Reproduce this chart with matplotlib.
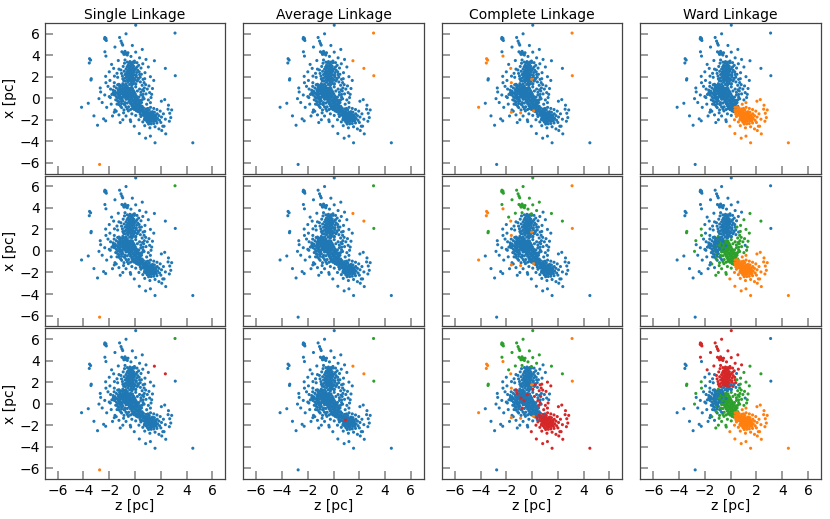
import numpy as np
import matplotlib
matplotlib.use('Agg')
import matplotlib.pyplot as plt

# cluster colours (label 0..3)
palette = np.array(['#1f77b4', '#ff7f0e', '#2ca02c', '#d62728'])

methods = ['Single Linkage', 'Average Linkage', 'Complete Linkage', 'Ward Linkage']
n_clusters = [2, 3, 4]

# star positions as (z, x) in pc, grouped by how they get labelled
top = [(0.05, 6.78), (-0.70, 5.98), (-2.34, 5.64), (-2.26, 5.55), (-2.31, 5.46),
       (-2.23, 5.36), (-2.36, 5.52), (-1.20, 5.64), (-1.09, 5.30), (-1.02, 5.09),
       (-0.96, 4.93), (-1.56, 4.75), (-0.21, 4.90), (0.56, 4.53), (-2.34, 4.31),
       (-1.02, 4.31), (-0.91, 4.22), (-0.78, 4.35), (-0.68, 4.19), (-0.86, 4.07),
       (-0.60, 4.01), (-0.55, 4.22), (-0.73, 4.10), (-0.32, 3.88), (0.05, 4.28),
       (-1.82, 3.14), (-0.78, 3.55), (-0.05, 3.45), (0.35, 3.75), (-1.30, 3.50)]
core_top = [(-0.45, 3.25), (-0.30, 3.20), (-0.20, 3.10), (-0.55, 3.05), (-0.38, 3.00),
            (-0.10, 2.95), (-0.62, 2.90), (-0.28, 2.88), (-0.48, 2.80), (-0.15, 2.78),
            (0.05, 2.75), (-0.70, 2.70), (-0.35, 2.68), (-0.22, 2.62), (-0.55, 2.58),
            (-0.05, 2.55), (-0.42, 2.50), (-0.30, 2.45), (-0.65, 2.42), (-0.12, 2.40),
            (0.12, 2.38), (-0.50, 2.32), (-0.25, 2.30), (-0.38, 2.22), (-0.78, 2.20),
            (-0.05, 2.18), (-0.58, 2.12), (-0.18, 2.10), (-0.42, 2.05), (-0.30, 1.98),
            (0.08, 1.98), (-0.68, 1.95), (-0.50, 1.90), (-0.12, 1.88), (-0.35, 1.82),
            (-0.22, 1.75), (-0.60, 1.72), (0.02, 1.70), (-0.45, 1.65), (-0.28, 1.60),
            (-0.75, 1.58), (-0.10, 1.55), (0.20, 2.60), (-0.85, 2.50), (0.25, 1.85),
            (-0.95, 1.80), (-0.92, 2.95), (0.28, 3.05), (-0.82, 3.25), (0.15, 3.30),
            (-1.05, 2.30), (0.35, 2.20), (-0.98, 2.05), (0.32, 2.45), (-0.88, 1.62),
            (0.18, 1.60), (0.40, 1.95), (-1.10, 2.62), (-0.60, 3.35), (-0.05, 3.30),
            (-0.40, 3.40), (-0.66, 2.27), (-0.09, 2.67), (-0.51, 2.96), (-0.24, 2.02),
            (-0.40, 1.73), (0.10, 2.12), (-0.80, 1.85), (0.15, 2.90), (-0.20, 3.35),
            (0.60, 3.20), (0.85, 3.60)]
core_blue = [(-0.55, 1.48), (-0.30, 1.42), (-0.15, 1.35), (-0.70, 1.30), (-0.42, 1.28),
             (0.05, 1.30), (-0.85, 1.22), (-0.25, 1.18), (-0.60, 1.12), (-1.00, 1.15),
             (-1.45, 0.95), (-1.30, 0.80), (-1.55, 0.65), (-1.20, 0.55), (-1.40, 0.45),
             (-1.10, 0.40), (-1.60, 0.30), (-1.25, 0.25), (-1.45, 0.15), (-1.05, 0.10),
             (-1.35, 0.00), (-1.15, -0.10), (-1.50, -0.15), (-0.95, -0.25), (-1.25, -0.35),
             (-1.05, -0.50), (-0.80, -0.60), (-1.40, -0.55), (-0.70, -0.80), (-1.70, 0.75),
             (-1.80, 0.35), (-1.20, 1.05), (-0.95, 0.85), (-1.05, 0.70), (-1.62, 1.10),
             (-1.35, 1.25), (-1.50, 0.50), (-1.28, 0.65), (-1.18, 0.20), (-1.00, -0.05),
             (-0.90, 0.30), (-0.95, 0.62), (-1.12, 0.85), (-0.78, 1.05), (-0.62, 0.88),
             (-0.72, 0.52), (-0.48, 0.82), (-0.88, 0.15), (-0.58, 0.18), (-0.35, 0.48)]
halo_blue = [(-3.63, -0.47), (-3.19, -1.64), (-2.91, -2.51), (-2.44, -1.92), (-2.28, -2.10),
             (-1.56, -1.09), (-1.40, 2.31), (-1.35, 1.94), (-2.67, 0.58), (-1.92, 0.06),
             (-2.00, 0.15), (-1.69, 0.52), (-1.61, 0.36), (-1.35, -0.25), (-1.25, -0.59),
             (-1.04, -0.87), (0.46, 2.80), (0.41, 1.51), (1.13, 0.52), (-2.10, 1.10),
             (-1.95, 1.65), (-1.85, -0.55), (-2.20, -0.85), (-1.75, -1.65), (-2.00, 2.45),
             (-1.60, 2.05), (-1.25, 2.70), (-1.90, 0.85), (-2.35, 0.30), (-1.25, -1.55),
             (-2.55, -0.40)]
c_orange_blue = [(-3.53, 3.67), (-3.45, 3.54), (-3.55, 3.27), (-2.26, 3.91), (-1.66, 2.77),
                 (-1.61, 1.44), (-4.15, -0.84), (-1.61, -1.30), (-0.03, 1.75)]
c_orange_green = [(-0.89, -1.36), (0.12, -1.18)]
left_green = [(-3.40, 1.81), (-3.42, 1.69)]
halo_green = [(-2.80, -0.04), (-2.70, 0.95), (-2.26, 1.44), (-2.28, 2.03), (-1.46, -1.21),
              (-1.15, -2.26), (-0.37, -2.01), (-0.34, -2.17), (1.03, 2.90), (0.77, 2.37),
              (0.49, 2.22), (1.29, 0.36), (-0.86, -1.09), (-0.52, -1.18), (-0.21, -0.96),
              (-0.70, -1.65), (-0.95, -2.00), (0.05, -1.60), (-0.25, -1.45), (0.85, 0.40),
              (0.95, 0.85), (1.35, 0.90)]
core_green = [(-0.95, 0.95), (-0.80, 0.90), (-0.65, 0.98), (-0.50, 0.92), (-0.35, 0.95),
              (-0.20, 0.90), (-0.88, 0.78), (-0.72, 0.75), (-0.58, 0.80), (-0.42, 0.72),
              (-0.28, 0.78), (-0.12, 0.70), (-0.98, 0.60), (-0.82, 0.58), (-0.68, 0.62),
              (-0.52, 0.55), (-0.38, 0.60), (-0.22, 0.52), (-0.05, 0.55), (-0.92, 0.42),
              (-0.75, 0.40), (-0.60, 0.45), (-0.45, 0.38), (-0.30, 0.42), (-0.15, 0.35),
              (0.02, 0.38), (-0.85, 0.25), (-0.70, 0.22), (-0.55, 0.28), (-0.40, 0.20),
              (-0.25, 0.25), (-0.10, 0.18), (0.10, 0.20), (-0.78, 0.08), (-0.62, 0.05),
              (-0.48, 0.10), (-0.32, 0.02), (-0.18, 0.08), (0.00, 0.02), (0.18, 0.05),
              (-0.70, -0.10), (-0.55, -0.08), (-0.40, -0.15), (-0.25, -0.10), (-0.08, -0.18),
              (0.08, -0.12), (0.25, -0.15), (-0.45, -0.30), (-0.30, -0.35), (-0.15, -0.28),
              (0.00, -0.35), (0.15, -0.30), (0.32, -0.38), (-0.35, -0.50), (-0.20, -0.55),
              (-0.05, -0.48), (0.10, -0.52), (0.25, -0.58), (0.40, -0.55), (-0.25, -0.70),
              (-0.10, -0.75), (0.05, -0.68), (0.20, -0.75), (0.35, -0.72), (-0.15, -0.90),
              (0.00, -0.88), (0.15, -0.95), (0.30, -1.00), (-0.05, -1.05), (0.10, -1.12),
              (0.22, -0.60), (-0.60, -0.45), (-0.50, 0.65), (-0.65, 0.35), (0.30, 0.10),
              (0.40, -0.20), (0.50, -0.40), (-0.35, 0.85), (-1.15, 1.20), (-1.10, 0.75),
              (-1.20, 0.05), (-1.05, -0.30), (-0.85, -0.55), (0.45, 0.55), (0.62, 0.35),
              (0.70, -0.05), (0.55, -0.75), (0.48, -1.05), (0.25, -1.25), (-0.35, -1.05),
              (-0.50, -0.80), (0.72, 0.95), (0.35, 0.85), (0.05, 1.05), (-0.95, 1.35),
              (-1.30, 0.35), (-0.60, -1.00), (0.58, 0.78), (-1.12, -0.75)]
core_green_red = [(-0.86, 0.52), (-0.63, 0.27), (-0.37, 0.83), (0.18, 0.67), (0.67, 0.67),
                  (-0.78, -0.41), (0.45, 0.30), (0.55, -0.15), (0.62, 0.10), (1.24, 0.06),
                  (1.03, -0.16), (1.19, 2.00), (0.75, 1.81), (1.08, 1.14), (0.82, 1.26),
                  (0.70, 1.45), (1.45, 1.65), (0.55, 1.20)]
core_blue_red = [(-1.25, 1.29), (-1.15, 0.95), (0.05, 1.35), (0.25, 1.75), (0.62, 1.75)]
clump_blue = [(0.35, -0.85), (0.50, -0.80), (0.65, -0.90), (0.45, -1.10), (0.30, -1.15),
              (0.80, -1.25), (0.58, -1.22), (0.95, -1.32), (0.40, -1.48), (0.55, -1.55),
              (0.70, -1.30), (1.00, -0.95)]
clump = [(1.55, -4.14), (4.48, -4.14), (2.07, -3.00), (2.38, -3.31), (2.25, -2.60),
         (2.66, -2.14), (2.77, -1.80), (2.69, -1.40), (2.84, -1.09), (2.56, -1.02),
         (2.59, -0.65), (2.04, -0.28), (2.30, -0.13), (0.33, -3.28), (0.82, -3.71),
         (1.19, -3.52), (-0.06, -2.60), (1.19, -0.41), (0.90, -0.56),
         (0.55, -1.05), (0.70, -1.15), (0.85, -1.00), (0.95, -1.20), (1.10, -1.10),
         (0.62, -1.35), (0.78, -1.40), (0.92, -1.45), (1.05, -1.38), (1.20, -1.32),
         (1.35, -1.25), (1.50, -1.30), (0.68, -1.60), (0.82, -1.65), (0.98, -1.62),
         (1.12, -1.58), (1.25, -1.55), (1.40, -1.50), (1.58, -1.55), (1.72, -1.45),
         (0.75, -1.85), (0.90, -1.82), (1.05, -1.80), (1.18, -1.78), (1.32, -1.75),
         (1.48, -1.72), (1.62, -1.70), (1.85, -1.62), (0.85, -2.05), (1.00, -2.00),
         (1.15, -1.98), (1.28, -1.95), (1.42, -1.92), (1.58, -1.90), (1.75, -1.88),
         (0.95, -2.22), (1.12, -2.20), (1.30, -2.15), (1.48, -2.12), (1.65, -2.10),
         (1.90, -2.05), (1.05, -2.40), (1.25, -2.38), (1.45, -2.35), (1.70, -2.30),
         (2.00, -2.25), (0.60, -2.20), (0.45, -1.70), (0.40, -1.30), (2.05, -1.75),
         (2.20, -1.45), (1.95, -1.20), (1.70, -1.05), (1.45, -0.95), (1.20, -0.85),
         (2.35, -1.95), (1.55, -2.65), (1.15, -2.75), (0.75, -2.55), (2.15, -2.60),
         (1.85, -2.85), (0.30, -2.00), (1.38, -1.62), (1.02, -1.70), (1.22, -2.05),
         (0.88, -1.52), (1.52, -2.00), (1.10, -1.45), (1.30, -1.40), (0.72, -1.98)]
iso_low = [(-2.75, -6.15)]
iso_top = [(3.10, 6.05)]
pair = [(1.50, 3.48), (2.35, 2.77)]
iso_right = [(3.12, 2.09)]
avg_red = [(0.93, -1.52)]

# labels per group: Single k=2,3,4 | Average k=2,3,4 | Complete k=2,3,4 | Ward k=2,3,4
group_labels = [
    (core_top, '000000000003'),
    (halo_blue, '000000000000'),
    (top, '000000022003'),
    (core_green, '000000000022'),
    (core_blue, '000000000000'),
    (halo_green, '000000000022'),
    (left_green, '000000022022'),
    (core_blue_red, '000000003000'),
    (core_green_red, '000000003022'),
    (clump_blue, '000000000111'),
    (clump, '000000003111'),
    (c_orange_blue, '000000111000'),
    (c_orange_green, '000000111022'),
    (iso_low, '111000000000'),
    (iso_top, '022122111000'),
    (pair, '003111022022'),
    (iso_right, '000122111000'),
    (avg_red, '000003003111'),
]

z_vals, x_vals, labels = [], [], []
for pts, code in group_labels:
    for z, x in pts:
        z_vals.append(z)
        x_vals.append(x)
        labels.append([int(ch) for ch in code])
z_vals = np.array(z_vals)
x_vals = np.array(x_vals)
labels = np.array(labels)

fig, axes = plt.subplots(3, 4, figsize=(8.3, 5.19), dpi=100, sharex=True, sharey=True)
fig.subplots_adjust(left=0.054, right=0.989, top=0.956, bottom=0.077,
                    wspace=0.1, hspace=0.013)

for r, k in enumerate(n_clusters):
    for c, method in enumerate(methods):
        ax = axes[r, c]
        lab = labels[:, c * 3 + r]
        ax.scatter(z_vals, x_vals, c=palette[lab], s=5, linewidths=0)
        ax.set_xlim(-7, 7)
        ax.set_ylim(-7, 7)
        ax.set_xticks(np.arange(-6, 7, 2))
        ax.set_yticks(np.arange(-6, 7, 2))
        ax.tick_params(direction='in', length=5.5, width=1.2, color='#8a8a8a',
                       labelsize=10)
        for sp in ax.spines.values():
            sp.set_color('#444444')
            sp.set_linewidth(0.9)
        if r == 0:
            ax.set_title(method, fontsize=10, pad=3)
        if c == 0:
            ax.set_ylabel('x [pc]', fontsize=10, labelpad=2)
        if r == 2:
            ax.set_xlabel('z [pc]', fontsize=10, labelpad=1)

fig.savefig('out.png', dpi=100, facecolor='white')
